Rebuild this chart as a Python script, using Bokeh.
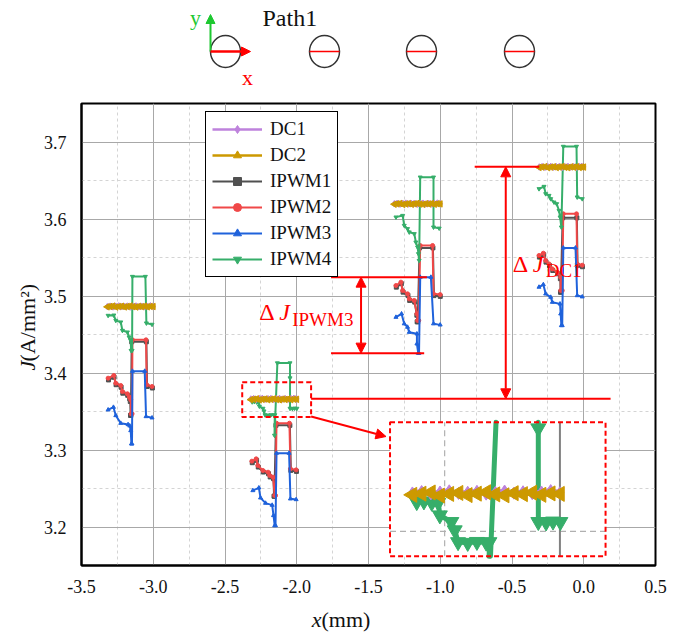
import math
from bokeh.plotting import figure
from bokeh.layouts import column, row
from bokeh.models import (Range1d, FixedTicker, NumeralTickFormatter, Label, Arrow,
                          NormalHead, Legend, LegendItem, BoxAnnotation)
from bokeh.embed import file_html
from bokeh.resources import INLINE
from bokeh.core.properties import value

FONT = "Liberation Serif"          # for text glyphs / labels
FONT_Q = "'Liberation Serif'"      # for axes and legend
NAN = float("nan")

# ---------------- data ----------------
series_names = ["DC1", "DC2", "IPWM1", "IPWM2", "IPWM3", "IPWM4"]
series_colors = ["#BE82DC", "#CC9900", "#505050", "#F04848", "#1F62DB", "#36AE6A"]
series_markers = ["diamond", "triangle", "square", "circle", "triangle", "inverted_triangle"]
series_angles = [0.0, math.pi / 2, 0.0, 0.0, 0.0, 0.0]

x_ticks = [-3.5, -3.0, -2.5, -2.0, -1.5, -1.0, -0.5, 0.0, 0.5]
x_minor = [-3.25, -2.75, -2.25, -1.75, -1.25, -0.75, -0.25, 0.25]
y_ticks = [3.2, 3.3, 3.4, 3.5, 3.6, 3.7]
y_minor = [3.15, 3.25, 3.35, 3.45, 3.55, 3.65, 3.75]

dc_x = [
    [-3.32, -3.30, -3.28, -3.26, -3.24, -3.22, -3.20, -3.18, -3.16, -3.14, -3.12, -3.10, -3.08, -3.06, -3.04, -3.02, -3.00],
    [-2.32, -2.30, -2.28, -2.26, -2.24, -2.22, -2.20, -2.18, -2.16, -2.14, -2.12, -2.10, -2.08, -2.06, -2.04, -2.02, -2.00],
    [-1.32, -1.30, -1.28, -1.26, -1.24, -1.22, -1.20, -1.18, -1.16, -1.14, -1.12, -1.10, -1.08, -1.06, -1.04, -1.02, -1.00],
    [-0.31, -0.29, -0.27, -0.25, -0.23, -0.21, -0.19, -0.17, -0.15, -0.13, -0.11, -0.09, -0.07, -0.05, -0.03, -0.015, 0.0],
]
dc1_y = [
    [3.4862, 3.4868, 3.4858, 3.4866, 3.4871, 3.4860, 3.4865, 3.4869, 3.4857, 3.4864, 3.4870, 3.4861, 3.4867, 3.4859, 3.4866, 3.4872, 3.4863],
    [3.3662, 3.3668, 3.3658, 3.3666, 3.3671, 3.3660, 3.3665, 3.3669, 3.3657, 3.3664, 3.3670, 3.3661, 3.3667, 3.3659, 3.3666, 3.3672, 3.3663],
    [3.6197, 3.6203, 3.6193, 3.6201, 3.6206, 3.6195, 3.6200, 3.6204, 3.6192, 3.6199, 3.6205, 3.6196, 3.6202, 3.6194, 3.6201, 3.6207, 3.6198],
    [3.6675, 3.6681, 3.6671, 3.6679, 3.6684, 3.6673, 3.6678, 3.6682, 3.6670, 3.6677, 3.6683, 3.6674, 3.6680, 3.6672, 3.6679, 3.6685, 3.6676],
]
dc2_y = [
    [3.4859, 3.4864, 3.4869, 3.4856, 3.4863, 3.4867, 3.4858, 3.4864, 3.4870, 3.4861, 3.4857, 3.4866, 3.4862, 3.4868, 3.4859, 3.4865, 3.4863],
    [3.3654, 3.3659, 3.3664, 3.3651, 3.3658, 3.3662, 3.3653, 3.3659, 3.3665, 3.3656, 3.3652, 3.3661, 3.3657, 3.3663, 3.3654, 3.3660, 3.3658],
    [3.6192, 3.6197, 3.6202, 3.6189, 3.6196, 3.6200, 3.6191, 3.6197, 3.6203, 3.6194, 3.6190, 3.6199, 3.6195, 3.6201, 3.6192, 3.6198, 3.6196],
    [3.6670, 3.6675, 3.6680, 3.6667, 3.6674, 3.6678, 3.6669, 3.6675, 3.6681, 3.6672, 3.6668, 3.6677, 3.6673, 3.6679, 3.6670, 3.6676, 3.6674],
]

ipwm1_x = [
    [-3.312, -3.273, -3.259, -3.224, -3.212, -3.178, -3.164, -3.160, -3.158, -3.156, -3.150, -3.048, -3.043, -3.006],
    [-2.310, -2.280, -2.268, -2.233, -2.197, -2.185, -2.162, -2.158, -2.156, -2.145, -2.048, -2.041, -2.002],
    [-1.306, -1.271, -1.259, -1.225, -1.213, -1.178, -1.163, -1.161, -1.157, -1.144, -1.051, -1.044, -1.000],
    [-0.309, -0.279, -0.263, -0.239, -0.216, -0.181, -0.163, -0.162, -0.160, -0.147, -0.048, -0.043, -0.009],
]
ipwm1_y = [
    [3.3910, 3.3945, 3.3848, 3.3815, 3.3738, 3.3710, 3.3665, 3.3630, 3.3450, 3.3450, 3.4405, 3.4405, 3.3825, 3.3805],
    [3.2835, 3.2866, 3.2779, 3.2714, 3.2692, 3.2650, 3.2628, 3.2400, 3.2400, 3.3320, 3.3320, 3.2735, 3.2722],
    [3.5115, 3.5160, 3.5050, 3.5008, 3.4942, 3.4921, 3.4750, 3.4665, 3.4665, 3.5625, 3.5625, 3.5005, 3.4995],
    [3.5505, 3.5536, 3.5440, 3.5396, 3.5331, 3.5288, 3.5225, 3.5050, 3.5050, 3.6015, 3.6015, 3.5395, 3.5380],
]

ipwm2_x = [
    [-3.3145, -3.275, -3.261, -3.2264, -3.2148, -3.180, -3.166, -3.157, -3.1545, -3.1475, -3.1452, -3.0502, -3.0455, -3.0084],
    [-2.3127, -2.2826, -2.271, -2.236, -2.200, -2.1884, -2.1652, -2.1536, -2.1480, -2.141, -2.051, -2.044, -2.0043],
    [-1.3087, -1.2739, -1.262, -1.228, -1.216, -1.181, -1.1626, -1.158, -1.150, -1.1396, -1.0535, -1.047, -1.0005],
    [-0.3118, -0.2816, -0.2653, -0.242, -0.2188, -0.184, -0.1608, -0.1600, -0.1500, -0.1426, -0.0504, -0.0458, -0.0104],
]
ipwm2_y = [
    [3.3933, 3.3968, 3.3868, 3.3838, 3.3760, 3.3730, 3.3686, 3.3652, 3.3470, 3.3470, 3.4431, 3.4431, 3.3847, 3.3825],
    [3.2855, 3.2885, 3.2799, 3.2734, 3.2712, 3.2669, 3.2647, 3.2409, 3.2409, 3.3348, 3.3348, 3.2755, 3.2742],
    [3.5136, 3.5180, 3.5071, 3.5028, 3.4963, 3.4942, 3.4769, 3.4682, 3.4682, 3.5656, 3.5656, 3.5028, 3.5018],
    [3.5526, 3.5556, 3.5461, 3.5417, 3.5352, 3.5309, 3.5245, 3.5071, 3.5071, 3.6067, 3.6067, 3.5417, 3.5400],
]

ipwm3_x = [
    [-3.3145, -3.2774, -3.261, -3.2264, -3.1754, -3.1638, -3.157, -3.1522, -3.1480, -3.1452, -3.0594, -3.0502, -3.0084],
    [-2.3058, -2.264, -2.2524, -2.2177, -2.1713, -2.162, -2.1536, -2.1480, -2.141, -2.0534, -2.044, -2.0043],
    [-1.3087, -1.2697, -1.251, -1.228, -1.216, -1.1626, -1.1626, -1.1533, -1.1480, -1.1396, -1.0652, -1.047, -1.0005],
    [-0.3118, -0.2816, -0.2653, -0.2304, -0.2188, -0.1654, -0.1608, -0.1560, -0.1500, -0.1426, -0.0574, -0.0458, -0.0104],
]
ipwm3_y = [
    [3.3522, 3.3556, 3.3448, 3.3348, 3.3331, 3.3314, 3.3253, 3.3080, 3.3080, 3.4024, 3.4024, 3.3435, 3.3418],
    [3.2474, 3.2509, 3.2379, 3.2310, 3.2284, 3.2150, 3.2019, 3.2019, 3.2959, 3.2959, 3.2366, 3.2357],
    [3.4725, 3.4769, 3.4640, 3.4596, 3.4530, 3.4509, 3.4379, 3.4258, 3.4258, 3.5245, 3.5245, 3.4640, 3.4625],
    [3.5116, 3.5149, 3.5028, 3.4985, 3.4920, 3.4898, 3.4769, 3.4617, 3.4617, 3.5625, 3.5625, 3.5006, 3.4990],
]

ipwm4_x = [
    [-3.3145, -3.275, -3.261, -3.2264, -3.2148, -3.180, -3.1684, -3.157, -3.1545, -3.1475, -3.1452, -3.0548, -3.0478, -3.0084],
    [-2.3105, -2.2950, -2.2780, -2.2639, -2.2604, -2.2355, -2.2282, -2.2209, -2.2000, -2.1800, -2.1600, -2.1530, -2.1550,
     -2.1350, -2.0470, -2.0469, -2.0468, -2.0300, -2.0150, -1.9990],
    [-1.3087, -1.262, -1.251, -1.228, -1.216, -1.181, -1.170, -1.158, -1.152, -1.147, -1.1396, -1.047, -1.047, -1.0075],
    [-0.3118, -0.277, -0.2653, -0.242, -0.2304, -0.2072, -0.1886, -0.1724, -0.165, -0.156, -0.1426, -0.0504, -0.0458, -0.0104],
]
ipwm4_y = [
    [3.4747, 3.4751, 3.4682, 3.4661, 3.4552, 3.4531, 3.4466, 3.4422, 3.4292, 3.4292, 3.5253, 3.5253, 3.4648, 3.4631],
    [3.3624, 3.3627, 3.3621, 3.3621, 3.3568, 3.3540, 3.3505, 3.3455, 3.3452, 3.3456, 3.3453, 3.3455, 3.3190,
     3.4130, 3.4130, 3.3935, 3.3540, 3.3538, 3.3542, 3.3540],
    [3.6024, 3.6045, 3.5916, 3.5873, 3.5830, 3.5808, 3.5699, 3.5634, 3.5548, 3.5461, 3.6543, 3.6543, 3.5894, 3.5880],
    [3.6392, 3.6422, 3.6327, 3.6305, 3.6262, 3.6218, 3.6197, 3.6110, 3.6024, 3.5894, 3.6942, 3.6942, 3.6284, 3.6262],
]

# path diagram (page pixels)
diagram_cx = [225, 324, 421, 519]
diagram_cy = [51, 51, 51, 51]

# ---------------- helpers ----------------
def joined(groups):
    out = []
    for i, g in enumerate(groups):
        if i:
            out.append(NAN)
        out.extend(g)
    return out


def flat(groups):
    return [v for g in groups for v in g]


BL, BR = 80, 30          # frame offsets inside the page
LW = 40                  # width of the strip holding the y title
PAGE_W = 685
MAIN_H = 507

# ---------------- main figure ----------------
p = figure(width=PAGE_W - LW, height=MAIN_H, x_range=Range1d(-3.5, 0.5), y_range=Range1d(3.15, 3.75),
           output_backend="svg", toolbar_location=None,
           min_border_left=BL - LW, min_border_right=BR, min_border_top=10, min_border_bottom=35)
p.background_fill_color = "white"
p.border_fill_color = "white"
p.outline_line_color = "black"
p.outline_line_width = 2

p.xaxis.ticker = FixedTicker(ticks=x_ticks, minor_ticks=x_minor)
p.yaxis.ticker = FixedTicker(ticks=y_ticks, minor_ticks=y_minor)
p.xaxis.formatter = NumeralTickFormatter(format="0.0")
p.yaxis.formatter = NumeralTickFormatter(format="0.0")
for ax in (p.xaxis, p.yaxis):
    ax.major_tick_line_color = None
    ax.minor_tick_line_color = None
    ax.axis_line_color = "black"
    ax.axis_line_width = 2
    ax.major_label_text_font = FONT_Q
    ax.major_label_text_font_size = "18px"
    ax.major_label_text_color = "#111111"
p.xaxis.major_label_standoff = 8
p.yaxis.major_label_standoff = 9

for g in (p.xgrid, p.ygrid):
    g.grid_line_color = "#A8A8A8"
    g.grid_line_width = 1
    g.minor_grid_line_color = "#D4D4D4"
    g.minor_grid_line_dash = "3 3"

series_x = [dc_x, dc_x, ipwm1_x, ipwm2_x, ipwm3_x, ipwm4_x]
series_y = [dc1_y, dc2_y, ipwm1_y, ipwm2_y, ipwm3_y, ipwm4_y]
draw_order = [2, 3, 4, 5, 0, 1]
legend_renderers = {}
for i in draw_order:
    col = series_colors[i]
    lwid = 2.5 if i < 2 else 2
    lr = p.line(joined(series_x[i]), joined(series_y[i]), line_color=col, line_width=lwid)
    msize = 6.5 if i < 2 else 4
    sr = p.scatter(flat(series_x[i]), flat(series_y[i]), marker=series_markers[i],
                   angle=series_angles[i], size=msize, fill_color=col, line_color=col)
    legend_renderers[i] = [lr, sr]

legend = Legend(items=[LegendItem(label=series_names[i], renderers=legend_renderers[i])
                       for i in range(6)],
                location=(124, 288))
legend.border_line_color = "black"
legend.border_line_width = 1
legend.border_line_alpha = 1
legend.background_fill_alpha = 1
legend.label_text_font = FONT_Q
legend.label_text_font_size = "19px"
legend.label_text_color = "#111111"
legend.glyph_width = 50
legend.glyph_height = 20
legend.label_height = 20
legend.spacing = 4
legend.padding = 6
legend.margin = 0
legend.label_standoff = 8
p.add_layout(legend)

RED = "#FF0000"

# zoom box and inset
small_box = dict(left=-2.38, right=-1.90, bottom=3.343, top=3.388)
inset_box = dict(left=-1.35, right=0.152, bottom=3.162, top=3.336)
win = dict(left=-2.3685, right=-1.901, bottom=3.3395, top=3.396)


def ix(x):
    return inset_box["left"] + (x - win["left"]) / (win["right"] - win["left"]) * (inset_box["right"] - inset_box["left"])


def iy(y):
    return inset_box["bottom"] + (y - win["bottom"]) / (win["top"] - win["bottom"]) * (inset_box["top"] - inset_box["bottom"])


def clip_segment(x0, y0, x1, y1):
    dx, dy = x1 - x0, y1 - y0
    t0, t1 = 0.0, 1.0
    for pp, qq in ((-dx, x0 - win["left"]), (dx, win["right"] - x0),
                   (-dy, y0 - win["bottom"]), (dy, win["top"] - y0)):
        if pp == 0:
            if qq < 0:
                return None
        else:
            r = qq / pp
            if pp < 0:
                t0 = max(t0, r)
            else:
                t1 = min(t1, r)
    if t0 > t1:
        return None
    return (x0 + t0 * dx, y0 + t0 * dy, x0 + t1 * dx, y0 + t1 * dy)


def inside(x, y):
    return win["left"] <= x <= win["right"] and win["bottom"] <= y <= win["top"]


p.quad(left=[inset_box["left"]], right=[inset_box["right"]], bottom=[inset_box["bottom"]],
       top=[inset_box["top"]], fill_color="white", line_color=None)
p.segment(x0=[ix(-2.25)], y0=[inset_box["bottom"]], x1=[ix(-2.25)], y1=[inset_box["top"]],
          line_color="#B0B0B0", line_width=1.2, line_dash="6 4")
p.segment(x0=[inset_box["left"]], y0=[iy(3.35)], x1=[inset_box["right"]], y1=[iy(3.35)],
          line_color="#B0B0B0", line_width=1.2, line_dash="6 4")
p.segment(x0=[ix(-2.0)], y0=[inset_box["bottom"]], x1=[ix(-2.0)], y1=[inset_box["top"]],
          line_color="#808080", line_width=2)

for i in (5, 0, 1):
    gx, gy = series_x[i][1], series_y[i][1]
    segs = [clip_segment(gx[k], gy[k], gx[k + 1], gy[k + 1]) for k in range(len(gx) - 1)]
    segs = [s for s in segs if s is not None]
    p.segment(x0=[ix(s[0]) for s in segs], y0=[iy(s[1]) for s in segs],
              x1=[ix(s[2]) for s in segs], y1=[iy(s[3]) for s in segs],
              line_color=series_colors[i], line_width=5, line_cap="round")
    pts = [(ix(a), iy(b)) for a, b in zip(gx, gy) if inside(a, b)]
    msz = {5: 15, 0: 12, 1: 15}[i]
    p.scatter([q[0] for q in pts], [q[1] for q in pts], marker=series_markers[i],
              angle=series_angles[i], size=msz, fill_color=series_colors[i],
              line_color=series_colors[i])

p.add_layout(BoxAnnotation(fill_alpha=0, line_color=RED, line_alpha=1, line_width=2,
                           line_dash="5 3", **small_box))
p.add_layout(BoxAnnotation(fill_alpha=0, line_color=RED, line_alpha=1, line_width=2,
                           line_dash="5 3", **inset_box))
p.add_layout(Arrow(x_start=small_box["right"], y_start=small_box["bottom"] + 0.0005,
                   x_end=inset_box["left"] - 0.028, y_end=3.3175,
                   line_color=RED, line_width=2,
                   end=NormalHead(size=10, fill_color=RED, line_color=RED)))

# delta annotations
dc_low = sum(dc1_y[1]) / len(dc1_y[1])
dc_high = sum(dc1_y[3]) / len(dc1_y[3])
b_hi = max(ipwm3_y[2])
b_lo = min(ipwm3_y[2])

p.segment(x0=[small_box["right"], -0.76, -1.761, -1.761], y0=[dc_low, dc_high, b_hi, b_lo],
          x1=[0.187, dc_x[3][0], -1.093, -1.112], y1=[dc_low, dc_high, b_hi, b_lo],
          line_color=RED, line_width=2)
for ax_x, lo, hi in ((-0.5435, dc_low, dc_high), (-1.552, b_lo, b_hi)):
    p.add_layout(Arrow(x_start=ax_x, y_start=lo, x_end=ax_x, y_end=hi, line_color=RED, line_width=2,
                       start=NormalHead(size=10, fill_color=RED, line_color=RED),
                       end=NormalHead(size=10, fill_color=RED, line_color=RED)))


def delta_label(x, y, sub):
    p.add_layout(Label(x=x, y=y, text="Δ", text_font=FONT, text_font_size="24px", text_color=RED,
                       text_align="left", text_baseline="middle"))
    p.add_layout(Label(x=x, y=y, x_offset=20, text="J", text_font=FONT, text_font_size="24px",
                       text_font_style="italic", text_color=RED, text_align="left",
                       text_baseline="middle"))
    p.add_layout(Label(x=x, y=y, x_offset=33, y_offset=-7, text=sub, text_font=FONT,
                       text_font_size="19px", text_color=RED, text_align="left",
                       text_baseline="middle"))


delta_label(-2.2617, 3.4786, "IPWM3")
delta_label(-0.4948, 3.5422, "DC1")


def strip(width, height, xr, yr, bl, br):
    f = figure(width=width, height=height, x_range=Range1d(*xr), y_range=Range1d(*yr),
               output_backend="svg", toolbar_location=None,
               min_border_left=bl, min_border_right=br, min_border_top=0, min_border_bottom=0,
               x_axis_location=None, y_axis_location=None)
    f.grid.visible = False
    f.outline_line_color = None
    f.background_fill_color = "white"
    f.border_fill_color = "white"
    return f


# ---------------- left strip (y-axis title) ----------------
l = strip(LW, MAIN_H, (0, LW), (-(93 + MAIN_H), -93), 0, 0)
l.text(x=[27], y=[-386], text=["J"], text_font=value(FONT), text_font_size="22px",
       text_font_style="italic", text_color="#111111", text_align="left", text_baseline="middle",
       angle=math.pi / 2)
l.text(x=[27], y=[-376], text=["(A/mm²)"], text_font=value(FONT), text_font_size="22px",
       text_color="#111111", text_align="left", text_baseline="middle", angle=math.pi / 2)

# ---------------- top strip (path diagram) ----------------
t = strip(PAGE_W, 93, (BL, PAGE_W - BR), (93, 0), BL, BR)
t.ellipse(x=diagram_cx, y=diagram_cy, width=30, height=32, fill_color=None,
          line_color="#333333", line_width=1.5)
t.segment(x0=[c - 15 for c in diagram_cx[1:]], y0=diagram_cy[1:],
          x1=[c + 15 for c in diagram_cx[1:]], y1=diagram_cy[1:],
          line_color=RED, line_width=1.5)
GREEN = "#1DC830"
ox, oy = diagram_cx[0] - 15, diagram_cy[0]
t.add_layout(Arrow(x_start=ox, y_start=oy, x_end=ox, y_end=oy - 37, line_color=GREEN, line_width=2,
                   end=NormalHead(size=9, fill_color=GREEN, line_color=GREEN)))
t.add_layout(Arrow(x_start=ox, y_start=oy, x_end=ox + 40, y_end=oy, line_color=RED, line_width=2.5,
                   end=NormalHead(size=9, fill_color=RED, line_color=RED)))
t.text(x=[ox - 15], y=[17], text=["y"], text_font=value(FONT), text_font_size="22px",
       text_color=GREEN, text_align="center", text_baseline="middle")
t.text(x=[ox + 37], y=[77], text=["x"], text_font=value(FONT), text_font_size="22px",
       text_color=RED, text_align="center", text_baseline="middle")
t.text(x=[262], y=[17], text=["Path1"], text_font=value(FONT), text_font_size="24px",
       text_color="#111111", text_align="left", text_baseline="middle")

# ---------------- bottom strip (x-axis title) ----------------
b = strip(PAGE_W, 37, (BL, PAGE_W - BR), (637, 600), BL, BR)
b.text(x=[321], y=[619], text=["x"], text_font=value(FONT), text_font_size="22px",
       text_font_style="italic", text_color="#111111", text_align="right", text_baseline="middle")
b.text(x=[321], y=[619], text=["(mm)"], text_font=value(FONT), text_font_size="22px",
       text_color="#111111", text_align="left", text_baseline="middle")

layout = column(t, row(l, p, spacing=0), b, spacing=0)
open("out.html", "w").write(file_html(layout, INLINE))
